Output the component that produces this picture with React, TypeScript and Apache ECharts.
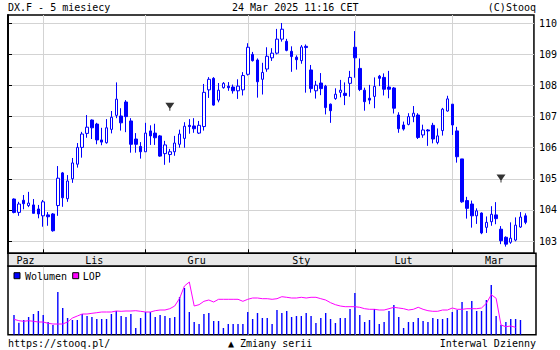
import React, { useEffect, useRef } from 'react';
import * as echarts from 'echarts';

// ---- trading days (Oct 2024 - Mar 2025) ----
const octDays = [24, 25, 28, 29, 30, 31];
const novDays = [1, 4, 5, 6, 7, 8, 11, 12, 13, 14, 15, 18, 19, 20, 21, 22, 25, 26, 27, 28, 29];
const decDays = [2, 3, 4, 5, 6, 9, 10, 11, 12, 13, 16, 17, 18, 19, 20, 23, 24, 26, 27, 30, 31];
const janDays = [2, 3, 6, 7, 8, 9, 10, 13, 14, 15, 16, 17, 20, 21, 22, 23, 24, 27, 28, 29, 30, 31];
const febDays = [3, 4, 5, 6, 7, 10, 11, 12, 13, 14, 17, 18, 19, 20, 21, 24, 25, 26, 27, 28];
const marDays = [3, 4, 5, 6, 7, 10, 11, 12, 13, 14, 17, 18, 19, 20, 21, 24];
const monthPrefixes = ['2024-10', '2024-11', '2024-12', '2025-01', '2025-02', '2025-03'];
const monthLabels = ['Paz', 'Lis', 'Gru', 'Sty', 'Lut', 'Mar'];

// ---- prices ----
const opens = [104.35,103.92,104.31,104.14,104.16,104.03,103.81,103.84,103.87,104.14,
105.19,104.36,105.00,105.47,106.01,106.46,106.89,106.76,106.25,106.16,
106.59,107.04,107.02,107.47,106.86,106.28,106.04,105.87,106.54,106.47,
106.38,105.81,105.78,105.87,106.11,106.30,106.72,106.70,106.47,106.68,
107.86,108.23,107.53,107.93,107.98,107.95,107.83,107.86,108.36,109.00,
108.82,108.20,108.53,108.89,109.04,109.49,109.42,109.10,108.91,108.80,
109.26,108.50,107.83,108.08,107.98,107.40,107.58,107.78,107.75,108.07,
109.23,108.55,107.85,107.59,107.65,108.30,108.26,107.95,107.92,107.05,
106.73,106.75,107.00,107.05,106.41,106.57,106.72,106.17,106.55,107.18,
107.40,106.54,105.64,104.30,104.19,103.81,103.90,103.44,103.62,103.84,
103.38,103.12,102.96,103.03,103.45,103.81];
const closes = [103.92,104.19,104.20,104.22,103.89,103.87,104.26,103.78,103.33,105.02,
104.39,104.93,105.51,106.01,106.44,106.66,106.64,106.25,106.18,106.64,
106.98,107.56,106.80,107.00,106.11,106.11,105.87,106.47,106.38,106.32,
105.73,106.09,105.87,106.15,106.44,106.69,106.68,106.61,106.72,107.78,
108.20,107.37,107.85,108.07,107.93,107.83,107.98,108.32,109.23,108.80,
108.12,108.42,108.94,109.04,109.49,109.81,109.13,108.93,108.83,109.24,
109.22,107.90,108.01,107.90,107.29,107.19,107.72,107.85,107.68,108.26,
108.89,107.87,107.48,107.53,107.97,108.23,107.88,107.88,107.27,106.61,
106.60,107.00,107.11,106.33,106.57,106.54,106.28,106.38,107.24,107.57,
106.73,105.71,104.26,104.05,103.81,103.97,103.26,103.60,103.86,103.72,
103.01,102.90,103.09,103.51,103.77,103.60];
const lows = [103.89,103.81,104.02,104.09,103.89,103.73,103.46,103.49,103.30,103.81,
104.10,104.26,104.87,105.36,105.68,106.32,106.28,106.11,106.08,106.13,
106.46,106.95,106.55,106.50,105.84,105.84,105.65,105.87,106.09,106.09,
105.71,105.45,105.52,105.74,106.00,106.00,106.45,106.48,106.44,106.55,
107.60,107.35,107.46,107.90,107.83,107.74,107.57,107.68,108.32,108.77,
107.61,107.71,108.44,108.79,109.00,109.41,109.10,108.44,108.51,108.70,
107.77,107.77,107.58,107.69,107.07,106.80,107.54,107.62,107.37,107.64,
108.25,107.82,107.19,107.40,107.27,107.98,107.68,107.59,107.10,106.48,
106.55,106.72,106.82,106.28,106.32,106.06,106.14,106.11,106.39,107.16,
106.41,105.52,104.23,103.72,103.43,103.55,103.22,103.26,103.49,103.54,
102.90,102.82,102.91,102.99,103.42,103.54];
const highs = [104.37,104.26,104.48,104.58,104.35,104.16,104.32,103.93,103.90,105.41,
105.22,105.12,105.67,106.15,106.51,107.05,106.91,106.80,106.64,106.92,
107.18,108.10,107.27,107.53,106.95,106.47,106.18,106.80,106.72,106.77,
106.41,106.22,105.96,106.38,106.58,106.82,106.92,106.95,106.86,108.05,
108.27,108.27,108.08,108.11,108.11,108.03,108.20,108.43,109.36,109.08,
108.87,108.73,109.23,109.20,109.82,110.01,109.50,109.26,108.97,109.30,
109.32,108.66,108.15,108.40,108.02,107.42,107.91,108.18,108.10,108.47,
109.75,108.87,107.93,108.02,108.26,108.34,108.39,108.47,107.95,107.14,
106.84,107.11,107.34,107.11,106.74,106.60,106.80,106.62,107.28,107.67,
107.40,106.67,105.64,104.42,104.30,104.05,103.92,103.79,104.12,104.25,
103.48,103.15,103.60,103.76,103.93,103.89];

// ---- volume (thousands) and open interest (LOP, relative) ----
const volume = [19.7,12.0,14.7,17.7,20.7,23.7,19.7,12.7,9.7,42.7,
26.7,16.7,14.7,14.7,20.7,18.7,17.7,15.7,15.7,15.7,
20.7,23.7,18.7,17.7,20.7,6.7,16.7,22.7,22.7,17.7,
19.7,18.7,16.7,17.7,37.7,46.7,22.7,12.7,10.7,20.7,
21.7,13.7,13.7,6.7,10.7,10.7,10.7,10.7,22.7,15.7,
21.7,16.7,16.7,10.7,24.7,21.7,23.7,17.7,18.7,18.7,
21.7,18.7,11.7,16.7,21.7,15.7,11.7,16.7,16.7,25.7,
41.7,19.7,12.7,14.7,25.7,10.7,12.7,23.7,29.7,17.7,
6.7,12.7,12.7,16.7,13.7,12.7,16.7,15.7,15.7,16.7,
22.7,24.7,32.7,23.7,33.7,23.7,23.7,34.7,49.7,18.7,
9.7,12.7,15.7,15.7,14.7,null];
const lop = [15.4,14.0,13.4,14.0,13.4,12.7,12.7,11.4,10.7,10.7,
10.7,12.7,16.7,18.7,20.7,20.7,21.4,22.0,22.7,22.7,
22.7,23.7,23.4,23.7,23.7,24.0,23.4,22.7,22.7,24.0,
24.7,24.7,26.0,28.7,36.4,48.7,52.7,28.7,30.0,33.4,
34.7,32.7,35.4,35.4,35.4,35.4,35.4,33.4,35.4,36.7,
36.7,36.0,36.0,35.4,36.0,38.0,37.4,36.7,36.7,37.4,
36.7,37.4,37.4,36.0,34.7,32.0,30.0,28.7,28.0,28.0,
28.0,27.4,26.0,25.4,25.4,24.7,24.7,26.0,27.4,26.7,
26.0,24.7,25.4,27.4,25.4,24.0,23.4,23.4,24.7,24.7,
26.7,25.4,25.4,26.0,26.0,26.0,26.7,31.4,40.0,36.4,
9.7,8.0,8.7,7.4,null,null];

const priceTicks = [103, 104, 105, 106, 107, 108, 109, 110];
const rollDates = ['2024-12-09', '2025-03-17'];
const rollLevels = [107.32, 105.01];

const pad = (n: number) => (n < 10 ? '0' + n : '' + n);
const categories: string[] = [];
[octDays, novDays, decDays, janDays, febDays, marDays].forEach((days, m) => {
  days.forEach((d) => categories.push(monthPrefixes[m] + '-' + pad(d)));
});
const monthStarts: number[] = [];
categories.forEach((c, i) => {
  if (i === 0 || c.slice(0, 7) !== categories[i - 1].slice(0, 7)) monthStarts.push(i);
});
const startSet = new Set(monthStarts.slice(1));
const isMonthStart = (i: number) => startSet.has(i);

const FONT = '"DejaVu Sans Mono"';
const Y_MIN = 102.605;
const Y_MAX = 110.267;
const GRID_GRAY = '#d3d3d3';
const BLUE = '#0000ff';
const MAGENTA = '#ff00ff';

export default function App() {
  const ref = useRef<HTMLDivElement>(null);
  useEffect(() => {
    if (!ref.current) return;
    const chart = echarts.init(ref.current, undefined, { renderer: 'svg' });
    const candleData = opens.map((o, i) => [o, closes[i], lows[i], highs[i]]);
    const option: any = {
      animation: false,
      backgroundColor: '#fff',
      textStyle: { fontFamily: FONT },
      grid: [
        { left: 8, top: 15, width: 528, height: 238.3, show: true, borderColor: '#000', borderWidth: 1.5, backgroundColor: '#fff' },
        { left: 14, top: 15, width: 511.35, height: 238.3 },
        { left: 8, top: 266, width: 528, height: 68.7, show: true, borderColor: '#000', borderWidth: 1.5, backgroundColor: '#fff' },
        { left: 14, top: 266, width: 511.35, height: 68.7 },
      ],
      xAxis: [
        { type: 'value', gridIndex: 0, min: 0, max: 1, show: false },
        {
          type: 'category', gridIndex: 1, data: categories, boundaryGap: false,
          axisLine: { show: false }, axisLabel: { show: false },
          axisTick: { show: true, inside: true, length: 4, interval: isMonthStart, lineStyle: { color: '#000' } },
          splitLine: { show: true, interval: isMonthStart, lineStyle: { color: GRID_GRAY, width: 1 } },
        },
        { type: 'value', gridIndex: 2, min: 0, max: 1, show: false },
        {
          type: 'category', gridIndex: 3, data: categories, boundaryGap: false,
          axisLine: { show: false }, axisLabel: { show: false }, axisTick: { show: false },
          splitLine: { show: true, interval: isMonthStart, lineStyle: { color: GRID_GRAY, width: 1 } },
        },
      ],
      yAxis: [
        {
          type: 'value', gridIndex: 0, position: 'right', min: Y_MIN, max: Y_MAX,
          axisLine: { show: true, lineStyle: { color: '#000', width: 1.5 } },
          axisTick: { show: true, length: 4, customValues: priceTicks, lineStyle: { color: '#000' } },
          axisLabel: { customValues: priceTicks, margin: 5, color: '#000', fontSize: 10, fontFamily: FONT },
          splitLine: { show: true, lineStyle: { color: GRID_GRAY, width: 1 } },
        },
        {
          type: 'value', gridIndex: 0, position: 'left', min: Y_MIN, max: Y_MAX,
          axisLine: { show: true, lineStyle: { color: '#000', width: 1.5 } },
          axisTick: { show: true, inside: true, length: 3, customValues: priceTicks, lineStyle: { color: '#000' } },
          axisLabel: { show: false }, splitLine: { show: false },
        },
        { type: 'value', gridIndex: 1, min: Y_MIN, max: Y_MAX, show: false, splitLine: { show: false } },
        { type: 'value', gridIndex: 2, min: 0, max: 1, show: false, splitLine: { show: false } },
        { type: 'value', gridIndex: 3, min: 0, max: 68.7, show: false, splitLine: { show: false } },
      ],
      series: [
        {
          type: 'candlestick', xAxisIndex: 1, yAxisIndex: 2, data: candleData, barWidth: 3, clip: false,
          itemStyle: { color: '#fff', color0: BLUE, borderColor: BLUE, borderColor0: BLUE, borderWidth: 1 },
        },
        {
          type: 'scatter', xAxisIndex: 1, yAxisIndex: 2,
          data: rollDates.map((d, i) => [d, rollLevels[i]]),
          symbol: 'path://M0,0L9,0L5,5.5L5,7.5L4,7.5L4,5.5Z', symbolSize: [9, 8],
          itemStyle: { color: '#000' },
        },
        {
          type: 'bar', xAxisIndex: 3, yAxisIndex: 4, data: volume, barWidth: 1.4,
          itemStyle: { color: BLUE },
        },
        {
          type: 'line', xAxisIndex: 3, yAxisIndex: 4, data: lop, symbol: 'none',
          lineStyle: { color: MAGENTA, width: 1 },
        },
      ],
    };
    chart.setOption(option);

    const px = (i: number) => chart.convertToPixel({ xAxisIndex: 1 }, categories[i]) as number;
    const bounds = [8, ...monthStarts.slice(1).map(px), 536];
    const font = '10px ' + FONT;
    const txt = (text: string, x: number, y: number, align = 'left') => ({
      type: 'text', x, y, silent: true,
      style: { text, font, fill: '#000', textAlign: align, textVerticalAlign: 'middle' },
    });
    const elements: any[] = [
      { type: 'rect', shape: { x: 8, y: 253.3, width: 528, height: 12.7 }, style: { fill: '#e8e8e8', stroke: '#000', lineWidth: 1.5 }, silent: true },
      ...monthLabels.map((m, k) => txt(m, (bounds[k] + bounds[k + 1]) / 2, 260, 'center')),
      txt('DX.F - 5 miesiecy', 8, 7.5),
      txt('24 Mar 2025 11:16 CET', 232, 7.5),
      txt('(C)Stooq', 536, 7.5, 'right'),
      { type: 'rect', shape: { x: 14, y: 272.7, width: 6, height: 6 }, style: { fill: BLUE, stroke: '#000', lineWidth: 1 }, silent: true },
      txt('Wolumen', 25, 276),
      { type: 'rect', shape: { x: 72.7, y: 272.7, width: 6, height: 6 }, style: { fill: MAGENTA, stroke: '#000', lineWidth: 1 }, silent: true },
      txt('LOP', 82.7, 276),
      txt('https://stooq.pl/', 8, 343.5),
      txt('▲ Zmiany serii', 228, 343.5),
      txt('Interwal Dzienny', 536, 343.5, 'right'),
    ];
    chart.setOption({ graphic: { elements } });
    return () => chart.dispose();
  }, []);
  return <div ref={ref} style={{ position: 'fixed', left: 0, top: 0, width: 560, height: 350 }} />;
}
